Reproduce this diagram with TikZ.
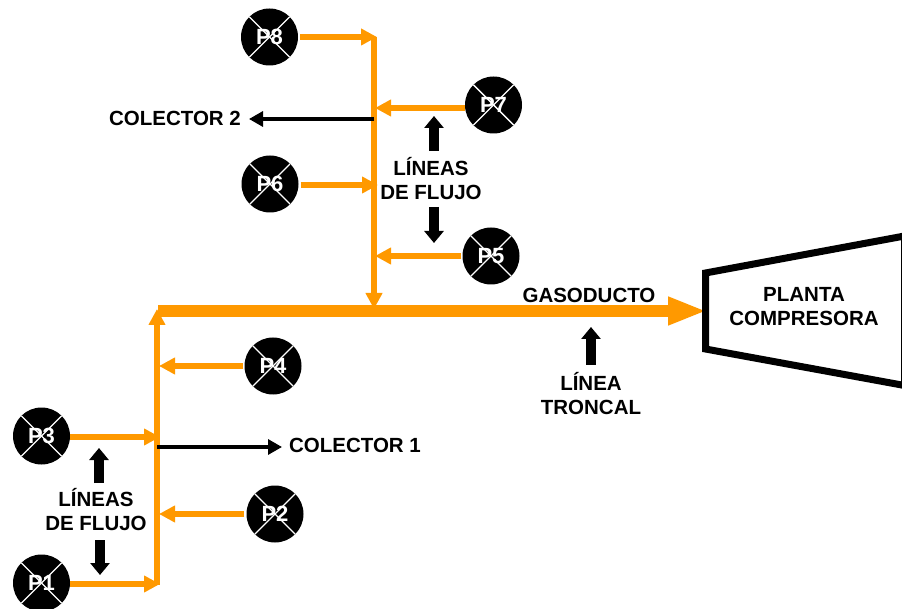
\documentclass[tikz,border=0pt]{standalone}
\usepackage{fontspec}
\setmainfont{Liberation Sans}
\usetikzlibrary{arrows.meta}
\definecolor{naranja}{RGB}{255,153,0}
\tikzset{
	pozo/.style={circle, fill=black, text=white, minimum size=57pt, inner sep=0pt, font=\bfseries\fontsize{22}{24}\selectfont,
		path picture={
			\draw[white, line width=1.4pt] (path picture bounding box.north west) -- (path picture bounding box.south east);
			\draw[white, line width=1.4pt] (path picture bounding box.north east) -- (path picture bounding box.south west);
		}},
	rotulo/.style={align=center, inner sep=0pt, font=\bfseries\fontsize{20.5}{24}\selectfont},
	flujo/.style={draw=naranja, line width=5.2pt, -{Triangle[length=16pt, width=16pt, fill=naranja]}},
	colector/.style={draw=black, line width=3.2pt, -{Triangle[length=14pt, width=15pt]}},
	senal/.style={draw=black, line width=10pt, -{Triangle[length=12pt, width=19pt]}}
}
\begin{document}
\begin{tikzpicture}[x=1pt, y=-1pt]
	\useasboundingbox (0,0) rectangle (902,609);
	% 1. pozos
	\node[pozo] (P8) at (269.5,37) {P8};
	\node[pozo] (P7) at (493.5,105) {P7};
	\node[pozo] (P6) at (270,184) {P6};
	\node[pozo] (P5) at (491,256) {P5};
	\node[pozo] (P4) at (273,366) {P4};
	\node[pozo] (P3) at (41.5,436) {P3};
	\node[pozo] (P2) at (275,514) {P2};
	\node[pozo] (P1) at (41.5,583) {P1};

	% 2. puntos de union sobre los colectores
	\coordinate (c2top) at (374,37);
	\coordinate (c2bot) at (374,309);
	\coordinate (c1top) at (157,309);
	\coordinate (c1bot) at (157,585);
	\coordinate (j8) at (377,37);
	\coordinate (j7) at (375,108);
	\coordinate (j6) at (378,185);
	\coordinate (j5) at (375,256);
	\coordinate (j4) at (159,366);
	\coordinate (j3) at (160,437);
	\coordinate (j2) at (159,514);
	\coordinate (j1) at (160,584);
	\coordinate (s2) at (374,119);
	\coordinate (e2) at (249,119);
	\coordinate (s1) at (157,447);
	\coordinate (e1) at (282,447);

	% 3. colectores y lineas de flujo
	\draw[flujo] (c2top) -- (c2bot);
	\draw[flujo] (c1bot) -- (c1top);
	\draw[flujo, shorten <=2pt] (P8.east |- j8) -- (j8);
	\draw[flujo] (P7.west |- j7) -- (j7);
	\draw[flujo, shorten <=2pt] (P6.east |- j6) -- (j6);
	\draw[flujo, shorten <=1pt] (P5.west |- j5) -- (j5);
	\draw[flujo, shorten <=1pt] (P4.west |- j4) -- (j4);
	\draw[flujo] (P3.east |- j3) -- (j3);
	\draw[flujo, shorten <=2pt] (P2.west |- j2) -- (j2);
	\draw[flujo] (P1.east |- j1) -- (j1);

	% 4. rotulos
	\node[rotulo] (col2) at (175,118.5) {COLECTOR 2};
	\node[rotulo] (col1) at (355,445) {COLECTOR 1};
	\node[rotulo] (lin2) at (431,179) {LÍNEAS\\DE FLUJO};
	\node[rotulo] (lin1) at (96,510) {LÍNEAS\\DE FLUJO};
	\node[rotulo] (gas) at (589,295) {GASODUCTO};
	\node[rotulo] (tron) at (591,393.5) {LÍNEA\\TRONCAL};
	\node[rotulo] (planta) at (804,307) {PLANTA\\COMPRESORA};

	% 5. salidas negras
	\draw[colector] (s2) -- (e2);
	\draw[colector] (s1) -- (e1);

	% 6. flechas de senalamiento
	\coordinate (a1) at (434,116);
	\coordinate (a2) at (434,243);
	\coordinate (a3) at (591,327);
	\coordinate (a4) at (99,448);
	\coordinate (a5) at (100,575);
	\draw[senal] (434,151) -- (a1);
	\draw[senal] (434,207) -- (a2);
	\draw[senal] (591,365) -- (a3);
	\draw[senal] (99,483) -- (a4);
	\draw[senal] (100,540) -- (a5);

	% 7. gasoducto y planta
	\coordinate (t0) at (158,311);
	\coordinate (t1) at (707,311);
	\draw[naranja, line width=12.7pt, -{Triangle[length=39pt, width=26pt, fill=naranja]}] (t0) -- (t1);
	\draw[black, line width=7pt, miter limit=10] (705.5,273) -- (904.5,236) -- (904.5,385.5) -- (705.5,349) -- cycle;
\end{tikzpicture}
\end{document}
